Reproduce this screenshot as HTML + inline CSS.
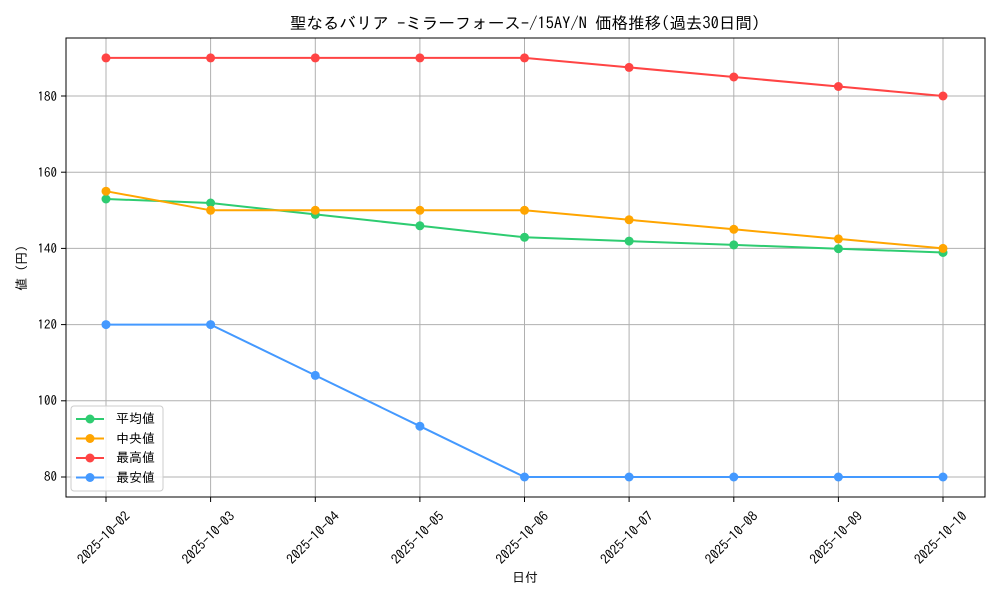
<!DOCTYPE html>
<html><head><meta charset="utf-8"><style>
body{margin:0;background:#fff;}
svg text{font-family:"IPAGothic","Noto Sans CJK JP",sans-serif;fill:#000;}
</style></head><body>
<svg width="1000" height="600" xmlns="http://www.w3.org/2000/svg">
<rect width="1000" height="600" fill="#fff"/>
<g stroke="#b0b0b0" stroke-width="1">
<line x1="106" y1="38" x2="106" y2="497"/><line x1="210.6" y1="38" x2="210.6" y2="497"/><line x1="315.3" y1="38" x2="315.3" y2="497"/><line x1="419.9" y1="38" x2="419.9" y2="497"/><line x1="524.5" y1="38" x2="524.5" y2="497"/><line x1="629.1" y1="38" x2="629.1" y2="497"/><line x1="733.8" y1="38" x2="733.8" y2="497"/><line x1="838.4" y1="38" x2="838.4" y2="497"/><line x1="943" y1="38" x2="943" y2="497"/>
<line x1="66" y1="477" x2="985" y2="477"/><line x1="66" y1="400.8" x2="985" y2="400.8"/><line x1="66" y1="324.6" x2="985" y2="324.6"/><line x1="66" y1="248.4" x2="985" y2="248.4"/><line x1="66" y1="172.2" x2="985" y2="172.2"/><line x1="66" y1="96" x2="985" y2="96"/>
</g>
<rect x="66" y="38" width="919" height="459" fill="none" stroke="#000" stroke-width="1"/>
<g stroke="#000"><line x1="61" y1="477" x2="66" y2="477"/><line x1="61" y1="400.8" x2="66" y2="400.8"/><line x1="61" y1="324.6" x2="66" y2="324.6"/><line x1="61" y1="248.4" x2="66" y2="248.4"/><line x1="61" y1="172.2" x2="66" y2="172.2"/><line x1="61" y1="96" x2="66" y2="96"/>
<line x1="106" y1="497" x2="106" y2="502"/><line x1="210.6" y1="497" x2="210.6" y2="502"/><line x1="315.3" y1="497" x2="315.3" y2="502"/><line x1="419.9" y1="497" x2="419.9" y2="502"/><line x1="524.5" y1="497" x2="524.5" y2="502"/><line x1="629.1" y1="497" x2="629.1" y2="502"/><line x1="733.8" y1="497" x2="733.8" y2="502"/><line x1="838.4" y1="497" x2="838.4" y2="502"/><line x1="943" y1="497" x2="943" y2="502"/></g>
<g font-size="13" text-anchor="end"><text x="57" y="481">80</text><text x="57" y="405">100</text><text x="57" y="329">120</text><text x="57" y="253">140</text><text x="57" y="177">160</text><text x="57" y="101">180</text></g>
<g font-size="13.5" text-anchor="middle">
<text transform="translate(107,541) rotate(-45)">2025-10-02</text>
<text transform="translate(211.6,541) rotate(-45)">2025-10-03</text>
<text transform="translate(316.3,541) rotate(-45)">2025-10-04</text>
<text transform="translate(420.9,541) rotate(-45)">2025-10-05</text>
<text transform="translate(525.5,541) rotate(-45)">2025-10-06</text>
<text transform="translate(630.1,541) rotate(-45)">2025-10-07</text>
<text transform="translate(734.8,541) rotate(-45)">2025-10-08</text>
<text transform="translate(839.4,541) rotate(-45)">2025-10-09</text>
<text transform="translate(944,541) rotate(-45)">2025-10-10</text>
</g>
<text x="525" y="582" font-size="13" text-anchor="middle">日付</text>
<text transform="translate(26,268) rotate(-90)" font-size="13" text-anchor="middle">値 (円)</text>
<text x="525" y="29" font-size="16.5" text-anchor="middle">聖なるバリア -ミラーフォース-/15AY/N 価格推移(過去30日間)</text>
<g fill="none" stroke-width="2">
<polyline stroke="#2ecc71" points="106,199 210.6,203 315.3,214.4 419.9,225.8 524.5,237.3 629.1,241.1 733.8,244.9 838.4,248.7 943,252.5"/>
<polyline stroke="#ffa500" points="106,191.2 210.6,210.3 315.3,210.3 419.9,210.3 524.5,210.3 629.1,219.8 733.8,229.3 838.4,238.9 943,248.4"/>
<polyline stroke="#ff4444" points="106,57.9 210.6,57.9 315.3,57.9 419.9,57.9 524.5,57.9 629.1,67.4 733.8,77 838.4,86.5 943,96"/>
<polyline stroke="#4499ff" points="106,324.6 210.6,324.6 315.3,375.4 419.9,426.2 524.5,477 629.1,477 733.8,477 838.4,477 943,477"/>
</g>
<g fill="#2ecc71"><circle cx="106" cy="199" r="4.5"/><circle cx="210.6" cy="203" r="4.5"/><circle cx="315.3" cy="214.4" r="4.5"/><circle cx="419.9" cy="225.8" r="4.5"/><circle cx="524.5" cy="237.3" r="4.5"/><circle cx="629.1" cy="241.1" r="4.5"/><circle cx="733.8" cy="244.9" r="4.5"/><circle cx="838.4" cy="248.7" r="4.5"/><circle cx="943" cy="252.5" r="4.5"/></g>
<g fill="#ffa500"><circle cx="106" cy="191.2" r="4.5"/><circle cx="210.6" cy="210.3" r="4.5"/><circle cx="315.3" cy="210.3" r="4.5"/><circle cx="419.9" cy="210.3" r="4.5"/><circle cx="524.5" cy="210.3" r="4.5"/><circle cx="629.1" cy="219.8" r="4.5"/><circle cx="733.8" cy="229.3" r="4.5"/><circle cx="838.4" cy="238.9" r="4.5"/><circle cx="943" cy="248.4" r="4.5"/></g>
<g fill="#ff4444"><circle cx="106" cy="57.9" r="4.5"/><circle cx="210.6" cy="57.9" r="4.5"/><circle cx="315.3" cy="57.9" r="4.5"/><circle cx="419.9" cy="57.9" r="4.5"/><circle cx="524.5" cy="57.9" r="4.5"/><circle cx="629.1" cy="67.4" r="4.5"/><circle cx="733.8" cy="77" r="4.5"/><circle cx="838.4" cy="86.5" r="4.5"/><circle cx="943" cy="96" r="4.5"/></g>
<g fill="#4499ff"><circle cx="106" cy="324.6" r="4.5"/><circle cx="210.6" cy="324.6" r="4.5"/><circle cx="315.3" cy="375.4" r="4.5"/><circle cx="419.9" cy="426.2" r="4.5"/><circle cx="524.5" cy="477" r="4.5"/><circle cx="629.1" cy="477" r="4.5"/><circle cx="733.8" cy="477" r="4.5"/><circle cx="838.4" cy="477" r="4.5"/><circle cx="943" cy="477" r="4.5"/></g>
<rect x="71" y="406" width="92" height="85" rx="3" fill="#fff" fill-opacity="0.8" stroke="#ccc"/>
<g stroke-width="2"><line x1="76" y1="419" x2="104" y2="419" stroke="#2ecc71"/><line x1="76" y1="438.5" x2="104" y2="438.5" stroke="#ffa500"/><line x1="76" y1="458" x2="104" y2="458" stroke="#ff4444"/><line x1="76" y1="477.5" x2="104" y2="477.5" stroke="#4499ff"/></g>
<circle cx="90" cy="419" r="4.5" fill="#2ecc71"/><circle cx="90" cy="438.5" r="4.5" fill="#ffa500"/><circle cx="90" cy="458" r="4.5" fill="#ff4444"/><circle cx="90" cy="477.5" r="4.5" fill="#4499ff"/>
<g font-size="13"><text x="116" y="423">平均値</text><text x="116" y="443">中央値</text><text x="116" y="462">最高値</text><text x="116" y="482">最安値</text></g>
</svg>
</body></html>
